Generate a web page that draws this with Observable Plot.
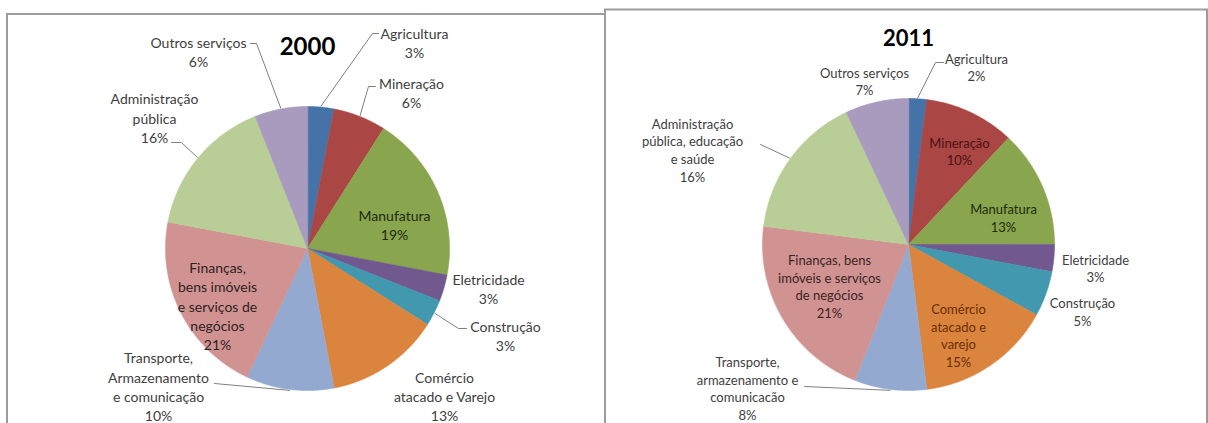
<!DOCTYPE html>
<html><head><meta charset="utf-8">
<script src="https://cdn.jsdelivr.net/npm/d3@7"></script>
<script src="https://cdn.jsdelivr.net/npm/@observablehq/plot@0.6"></script>
<style>
html,body{margin:0;padding:0;background:#fff;}
#chart{position:relative;width:1208px;height:423px;overflow:hidden;}
</style></head><body><div id="chart"></div>
<script>
// ---------- DATA ----------
const categories = ["Agricultura","Mineração","Manufatura","Eletricidade","Construção","Comércio","Transporte","Finanças","Administração","Outros serviços"];
const values2000 = [3, 6, 19, 3, 3, 13, 10, 21, 16, 6];
const values2011 = [2, 10, 13, 3, 5, 15, 8, 21, 16, 7];
const labels2000 = ["Agricultura","Mineração","Manufatura","Eletricidade","Construção","Comércio\natacado e Varejo","Transporte,\nArmazenamento\ne comunicação","Finanças,\nbens imóveis\ne serviços de\nnegócios","Administração\npública","Outros serviços"];
const labels2011 = ["Agricultura","Mineração","Manufatura","Eletricidade","Construção","Comércio\natacado e\nvarejo","Transporte,\narmazenamento e\ncomunicacão","Finanças, bens\nimóveis e serviços\nde negócios","Administração\npública, educação\ne saúde","Outros serviços"];
const years = ["2000", "2011"];

// ---------- STYLE / LAYOUT ----------
const sliceColors = ["#4572A7","#AA4643","#89A54E","#71588F","#4198AF","#DB843D","#93A9CF","#D19392","#B9CD96","#A99BBD"];
const FONT = "Lato, 'Open Sans', sans-serif";
const layout = {
  "2000": {cx: 307, cy: 248, r: 142, font: 14, lh: 1.37, title: [307, 47], titleSize: 24,
    pos: [[414,42],[411,91.5],[394,224],[488,287.5],[505,334.5],[444,395.5],[158,385.5],[217,305],[154,117],[198,50.5]],
    ink: {2: "#1f2a12", 7: "#2e2222"},
    leaders: {0: [[372,33],[378,33]], 1: [[368,86],[375,86]], 4: [[458,328],[466,328]], 6: [[214,383]], 8: [[181,142],[171,142]], 9: [[256,43],[250,43]]},
    panel: {x1: 7, x2: 605, y1: 14, y2: 450}},
  "2011": {cx: 908, cy: 244, r: 146, font: 13, lh: 1.36, title: [908, 38], titleSize: 22,
    pos: [[976,66.5],[959,150.5],[1003,217],[1095,267.5],[1082,311],[958,334.5],[747,387.5],[829,285.5],[692,149],[864,80.5]],
    ink: {1: "#4a1212", 2: "#1e2c0c", 5: "#6a2f08", 7: "#3a2424"},
    leaders: {0: [[935,62],[943,62]], 6: [[804,386]], 8: [[760,144]]},
    panel: {x1: 605, x2: 1207, y1: 9.5, y2: 450}}
};
const valuesByYear = {"2000": values2000, "2011": values2011};
const labelsByYear = {"2000": labels2000, "2011": labels2011};

// ---------- BUILD ----------
const slicePts = [], leaderPts = [], textRows = [];
for (const year of years) {
  const L = layout[year];
  const vals = valuesByYear[year];
  const arcs = d3.pie().sort(null).value(d => d)(vals);
  arcs.forEach((a, i) => {
    const id = year + "-" + i;
    slicePts.push({id, category: categories[i], x: L.cx, y: L.cy});
    const n = Math.max(2, Math.ceil((a.endAngle - a.startAngle) / 0.01));
    for (let k = 0; k <= n; k++) {
      const t = a.startAngle + (a.endAngle - a.startAngle) * k / n;
      slicePts.push({id, category: categories[i], x: L.cx + L.r * Math.sin(t), y: L.cy - L.r * Math.cos(t)});
    }
    if (L.leaders[i]) {
      const m = (a.startAngle + a.endAngle) / 2;
      leaderPts.push({id, x: L.cx + (L.r + 1) * Math.sin(m), y: L.cy - (L.r + 1) * Math.cos(m)});
      for (const [x, y] of L.leaders[i]) leaderPts.push({id, x, y});
    }
    textRows.push({year, x: L.pos[i][0], y: L.pos[i][1],
      text: labelsByYear[year][i] + "\n" + Math.round(a.value) + "%",
      ink: L.ink[i] || "#404040"});
  });
}

const marks = [];
for (const year of years) {
  const P = layout[year].panel;
  marks.push(Plot.rect([P], {x1: "x1", x2: "x2", y1: "y1", y2: "y2", fill: "white", stroke: "#9c9c9c", strokeWidth: 2}));
}
marks.push(Plot.line(slicePts, {x: "x", y: "y", z: "id", fill: "category", stroke: "category", strokeWidth: 0.6, curve: "linear-closed"}));
marks.push(Plot.line(leaderPts, {x: "x", y: "y", z: "id", stroke: "#808080", strokeWidth: 1}));
for (const year of years) {
  const L = layout[year];
  const rows = textRows.filter(d => d.year === year);
  for (const ink of [...new Set(rows.map(d => d.ink))]) {
    marks.push(Plot.text(rows.filter(d => d.ink === ink), {x: "x", y: "y", text: "text", fill: ink,
      fontSize: L.font, lineHeight: L.lh, lineAnchor: "middle", textAnchor: "middle", fontFamily: FONT}));
  }
  marks.push(Plot.text([year], {x: () => L.title[0], y: () => L.title[1], text: d => d, fontSize: L.titleSize,
    fontWeight: "bold", fill: "#000", fontFamily: FONT}));
}

const chart = Plot.plot({
  width: 1208, height: 423, margin: 0,
  style: {fontFamily: FONT, background: "white"},
  x: {domain: [0, 1208], range: [0, 1208], axis: null},
  y: {domain: [0, 423], range: [0, 423], axis: null},
  color: {domain: categories, range: sliceColors},
  marks
});
document.getElementById("chart").appendChild(chart);
</script>
</body></html>
